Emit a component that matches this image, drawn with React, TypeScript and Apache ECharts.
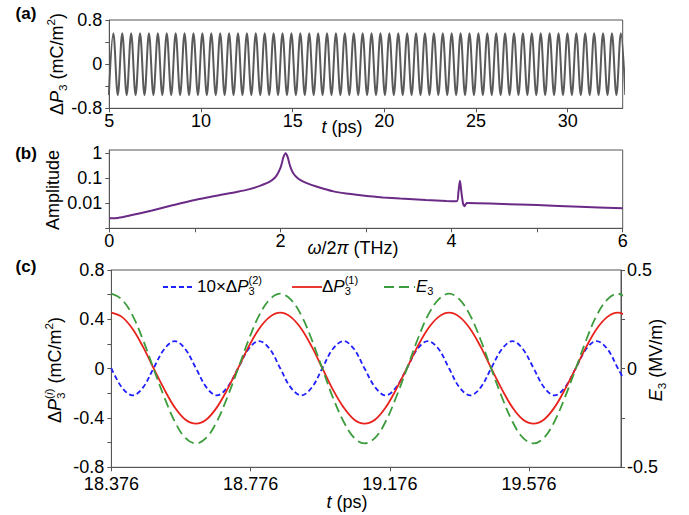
import React, { useEffect, useRef } from "react";
import * as echarts from "echarts";

const FONT = '"Liberation Sans", Arial, sans-serif';

// ---------- Panel (a): ΔP3 vs t, extrema ----------
const aFirstTime = 4.977; // ps, time of first (trough) extremum
const aHalfPeriod = 0.2428; // ps between successive extrema
const aExtrema = [
  -0.56, 0.56, -0.56, 0.56, -0.56, 0.56, -0.56, 0.56, -0.56, 0.56,
  -0.56, 0.56, -0.56, 0.56, -0.56, 0.56, -0.56, 0.56, -0.56, 0.56,
  -0.56, 0.56, -0.56, 0.56, -0.56, 0.56, -0.56, 0.56, -0.56, 0.56,
  -0.56, 0.56, -0.56, 0.56, -0.56, 0.56, -0.56, 0.56, -0.56, 0.56,
  -0.56, 0.56, -0.56, 0.56, -0.56, 0.56, -0.56, 0.56, -0.56, 0.56,
  -0.56, 0.56, -0.56, 0.56, -0.56, 0.56, -0.56, 0.56, -0.56, 0.56,
  -0.56, 0.56, -0.56, 0.56, -0.56, 0.56, -0.56, 0.56, -0.56, 0.56,
  -0.56, 0.56, -0.56, 0.56, -0.56, 0.56, -0.56, 0.56, -0.56, 0.56,
  -0.56, 0.56, -0.56, 0.56, -0.56, 0.56, -0.56, 0.56, -0.56, 0.56,
  -0.56, 0.56, -0.56, 0.56, -0.56, 0.56, -0.56, 0.56, -0.56, 0.56,
  -0.56, 0.56, -0.56, 0.56, -0.56, 0.56, -0.56, 0.56, -0.56, 0.56,
  -0.56, 0.56, -0.56, 0.56, -0.56, 0.56, -0.56,
];

// ---------- Panel (b): spectrum amplitude ----------
const bFreq = [
  0, 0.1, 0.25, 0.5, 0.75, 1.0, 1.25, 1.5, 1.64, 1.76, 1.88, 1.94, 1.975, 2.0,
  2.015, 2.035, 2.061, 2.085, 2.105, 2.125, 2.15, 2.19, 2.23, 2.3, 2.42, 2.62,
  2.8, 3.01, 3.2, 3.4, 3.7, 3.94, 4.06, 4.08, 4.098, 4.115, 4.135, 4.15, 4.165,
  4.18, 4.3, 4.6, 5.0, 5.5, 6.0,
];
const bAmp = [
  0.0025, 0.0026, 0.0033, 0.0052, 0.0085, 0.0135, 0.02, 0.029, 0.037, 0.05,
  0.075, 0.11, 0.17, 0.26, 0.38, 0.7, 1.0, 0.7, 0.38, 0.24, 0.16, 0.11, 0.086,
  0.066, 0.047, 0.03, 0.024, 0.0195, 0.0172, 0.0155, 0.0136, 0.0124, 0.0122,
  0.028, 0.08, 0.028, 0.0095, 0.0076, 0.0092, 0.0102, 0.0101, 0.0094, 0.0085,
  0.0073, 0.0063,
];

// ---------- Panel (c): zoomed time traces ----------
const cTickStart = 18.376;
const cTickStep = 0.4;
const cTMax = 19.84;
const cTime = [
  18.376, 18.406, 18.437, 18.467, 18.497, 18.528, 18.558, 18.588, 18.619, 18.649,
  18.679, 18.709, 18.74, 18.77, 18.8, 18.831, 18.861, 18.891, 18.922, 18.952,
  18.982, 19.012, 19.043, 19.073, 19.103, 19.134, 19.164, 19.194, 19.225, 19.255,
  19.285, 19.316, 19.346, 19.376, 19.407, 19.437, 19.467, 19.498, 19.528, 19.558,
  19.589, 19.619, 19.649, 19.679, 19.71, 19.74, 19.77, 19.801, 19.831, 19.861,
];
// 10 x ΔP3(2) (mC/m²), left axis
const cBlue = [
  0.003, -0.152, -0.217, -0.152, 0.003, 0.159, 0.224, 0.159,
  0.003, -0.152, -0.217, -0.152, 0.003, 0.159, 0.224, 0.159,
  0.003, -0.152, -0.217, -0.152, 0.003, 0.159, 0.224, 0.159,
  0.003, -0.152, -0.217, -0.152, 0.003, 0.159, 0.224, 0.159,
  0.003, -0.152, -0.217, -0.152, 0.003, 0.159, 0.224, 0.159,
  0.003, -0.152, -0.217, -0.152, 0.003, 0.159, 0.224, 0.159,
  0.003, -0.152,
];
// ΔP3(1) (mC/m²), left axis
const cRed = [
  0.454, 0.42, 0.322, 0.176, 0.004, -0.168, -0.314, -0.412,
  -0.446, -0.412, -0.314, -0.168, 0.004, 0.176, 0.322, 0.42,
  0.454, 0.42, 0.322, 0.176, 0.004, -0.168, -0.314, -0.412,
  -0.446, -0.412, -0.314, -0.168, 0.004, 0.176, 0.322, 0.42,
  0.454, 0.42, 0.322, 0.176, 0.004, -0.168, -0.314, -0.412,
  -0.446, -0.412, -0.314, -0.168, 0.004, 0.176, 0.322, 0.42,
  0.454, 0.42,
];
// E3 (MV/m), right axis
const cGreen = [
  0.38, 0.351, 0.269, 0.145, 0, -0.145, -0.268, -0.35,
  -0.379, -0.35, -0.268, -0.145, 0, 0.145, 0.269, 0.351,
  0.38, 0.351, 0.269, 0.145, 0, -0.145, -0.268, -0.35,
  -0.379, -0.35, -0.268, -0.145, 0, 0.145, 0.269, 0.351,
  0.38, 0.351, 0.269, 0.145, 0, -0.145, -0.268, -0.35,
  -0.379, -0.35, -0.268, -0.145, 0, 0.145, 0.269, 0.351,
  0.38, 0.351,
];

type Piece = {
  t: string;
  it?: boolean;
  b?: boolean;
  s?: number;
  dy?: number;
  stack?: boolean;
  join?: boolean;
};

let measureCtx: CanvasRenderingContext2D | null = null;
function textWidth(t: string, size: number, it?: boolean, b?: boolean) {
  if (!measureCtx) measureCtx = document.createElement("canvas").getContext("2d");
  measureCtx!.font = `${it ? "italic " : ""}${b ? "bold " : ""}${size}px ${FONT}`;
  return measureCtx!.measureText(t).width;
}

function mtext(
  pieces: Piece[],
  fs: number,
  x: number,
  y: number,
  opt: { rot?: number; align?: "left" | "center"; color?: string } = {}
) {
  let maxEnd = 0;
  let prevEnd = 0;
  let lastStart = 0;
  const kids: any[] = [];
  for (const p of pieces) {
    const size = fs * (p.s ?? 1);
    const w = textWidth(p.t, size, p.it, p.b);
    const px = p.stack ? lastStart : p.join ? prevEnd : maxEnd;
    kids.push({
      type: "text",
      x: px,
      y: (p.dy ?? 0) * fs,
      style: {
        text: p.t,
        fontSize: size,
        fontStyle: p.it ? "italic" : "normal",
        fontWeight: p.b ? "bold" : "normal",
        fontFamily: FONT,
        fill: opt.color ?? "#000",
        align: "left",
        verticalAlign: "middle",
      },
    });
    prevEnd = px + w;
    maxEnd = Math.max(maxEnd, prevEnd);
    if (!p.stack && !p.join) lastStart = px;
  }
  const off = opt.align === "left" ? 0 : -maxEnd / 2;
  kids.forEach((k) => (k.x += off));
  return { type: "group", x, y, rotation: opt.rot ?? 0, silent: true, children: kids };
}

const SUB = 0.3;
const SUP = -0.38;
const SS = 0.65;

export default function App() {
  const ref = useRef<HTMLDivElement>(null);

  useEffect(() => {
    const chart = echarts.init(ref.current!, null, { renderer: "svg" });

    const aData = aExtrema.map((v, i) => [aFirstTime + i * aHalfPeriod, v]);
    const bData = bFreq.map((f, i) => [f, bAmp[i]]);
    const cOff = (t: number) => t - cTickStart;
    const blueData = cTime.map((t, i) => [cOff(t), cBlue[i]]);
    const redData = cTime.map((t, i) => [cOff(t), cRed[i]]);
    const greenData = cTime.map((t, i) => [cOff(t), cGreen[i]]);

    const axisCol = "#555";
    const lbl = (extra: any = {}) => ({
      color: "#000",
      fontSize: 18,
      fontFamily: FONT,
      ...extra,
    });
    const baseAxis = {
      axisLine: { show: true, onZero: false, lineStyle: { color: axisCol, width: 1 } },
      axisTick: { show: true, length: 4, lineStyle: { color: axisCol } },
      splitLine: { show: false },
    };
    const grid = (left: number, top: number, right: number, bottom: number) => ({
      left,
      top,
      width: right - left,
      height: bottom - top,
      show: true,
      borderColor: axisCol,
      borderWidth: 1,
      backgroundColor: "transparent",
    });

    const option: any = {
      animation: false,
      backgroundColor: "#fff",
      grid: [
        grid(109.3, 20, 622.7, 108.3),
        grid(109.3, 150, 622.7, 228.3),
        grid(111.4, 270, 621, 467.3),
      ],
      xAxis: [
        {
          ...baseAxis,
          type: "value",
          gridIndex: 0,
          min: 5,
          max: 33,
          interval: 5,
          axisLabel: lbl({ margin: 4, showMaxLabel: false }),
        },
        {
          ...baseAxis,
          type: "value",
          gridIndex: 1,
          min: 0,
          max: 6,
          interval: 2,
          minorTick: { show: true, splitNumber: 2, length: 4, lineStyle: { color: axisCol } },
          axisLabel: lbl({ margin: 4 }),
        },
        {
          ...baseAxis,
          type: "value",
          gridIndex: 2,
          min: 0,
          max: cTMax - cTickStart,
          interval: cTickStep,
          axisLabel: lbl({
            margin: 8,
            showMaxLabel: false,
            formatter: (v: number) => (v + cTickStart).toFixed(3),
          }),
        },
      ],
      yAxis: [
        {
          ...baseAxis,
          type: "value",
          gridIndex: 0,
          min: -0.8,
          max: 0.8,
          interval: 0.8,
          minorTick: { show: true, splitNumber: 2, length: 4, lineStyle: { color: axisCol } },
          axisLabel: lbl({ margin: 7 }),
        },
        {
          ...baseAxis,
          type: "log",
          logBase: 10,
          gridIndex: 1,
          min: 0.001,
          max: 1.36,
          axisLabel: lbl({
            margin: 7,
            showMaxLabel: false,
            formatter: (v: number) => (v < 0.005 || v > 1.2 ? "" : String(Number(v.toPrecision(2)))),
          }),
        },
        {
          ...baseAxis,
          type: "value",
          gridIndex: 2,
          min: -0.8,
          max: 0.8,
          interval: 0.4,
          minorTick: { show: true, splitNumber: 2, length: 4, lineStyle: { color: axisCol } },
          axisLabel: lbl({ margin: 7 }),
        },
        {
          ...baseAxis,
          type: "value",
          gridIndex: 2,
          position: "right",
          min: -0.5,
          max: 0.5,
          interval: 0.5,
          minorTick: { show: true, splitNumber: 2, length: 4, lineStyle: { color: axisCol } },
          axisLabel: lbl({ margin: 6 }),
        },
      ],
      series: [
        {
          type: "line",
          xAxisIndex: 0,
          yAxisIndex: 0,
          data: aData,
          showSymbol: false,
          smooth: 0.36,
          lineStyle: { color: "#5a5a5a", width: 2 },
        },
        {
          type: "line",
          xAxisIndex: 1,
          yAxisIndex: 1,
          data: bData,
          showSymbol: false,
          smooth: 0.3,
          lineStyle: { color: "#6a2a86", width: 2 },
        },
        {
          type: "line",
          xAxisIndex: 2,
          yAxisIndex: 2,
          data: blueData,
          showSymbol: false,
          smooth: 0.36,
          lineStyle: { color: "#1f1fff", width: 1.8, type: [5, 3] },
        },
        {
          type: "line",
          xAxisIndex: 2,
          yAxisIndex: 2,
          data: redData,
          showSymbol: false,
          smooth: 0.36,
          lineStyle: { color: "#e8231c", width: 1.8 },
        },
        {
          type: "line",
          xAxisIndex: 2,
          yAxisIndex: 3,
          data: greenData,
          showSymbol: false,
          smooth: 0.36,
          lineStyle: { color: "#3c9c3c", width: 1.8, type: [10, 5] },
        },
      ],
      graphic: {
        elements: [
          mtext([{ t: "(a)", b: true }], 17, 26, 13),
          mtext([{ t: "(b)", b: true }], 17, 26, 153),
          mtext([{ t: "(c)", b: true }], 17, 26, 266),
          mtext(
            [
              { t: "Δ" },
              { t: "P", it: true },
              { t: "3", s: SS, dy: SUB },
              { t: " (mC/m" },
              { t: "2", s: SS, dy: SUP },
              { t: ")" },
            ],
            18,
            57,
            64,
            { rot: Math.PI / 2 }
          ),
          mtext([{ t: "t", it: true }, { t: " (ps)" }], 18, 342, 127),
          mtext([{ t: "Amplitude" }], 18, 53, 190, { rot: Math.PI / 2 }),
          mtext(
            [{ t: "ω", it: true }, { t: "/2" }, { t: "π", it: true }, { t: " (THz)" }],
            18,
            353,
            248
          ),
          mtext(
            [
              { t: "Δ" },
              { t: "P", it: true },
              { t: "3", s: SS, dy: SUB },
              { t: "(", s: SS, dy: SUP, stack: true },
              { t: "i", s: SS, dy: SUP, it: true, join: true },
              { t: ")", s: SS, dy: SUP, join: true },
              { t: " (mC/m" },
              { t: "2", s: SS, dy: SUP },
              { t: ")" },
            ],
            18,
            55,
            370,
            { rot: Math.PI / 2 }
          ),
          mtext(
            [{ t: "E", it: true }, { t: "3", s: SS, dy: SUB }, { t: " (MV/m)" }],
            18,
            656,
            360,
            { rot: Math.PI / 2 }
          ),
          mtext([{ t: "t", it: true }, { t: " (ps)" }], 18, 347, 502),
          // legend
          {
            type: "line",
            silent: true,
            shape: { x1: 163, y1: 287, x2: 195, y2: 287 },
            style: { stroke: "#1f1fff", lineWidth: 1.8, lineDash: [5, 3] },
          },
          mtext(
            [
              { t: "10×Δ" },
              { t: "P", it: true },
              { t: "3", s: SS, dy: SUB },
              { t: "(2)", s: SS, dy: SUP, stack: true },
            ],
            17,
            197,
            286,
            { align: "left" }
          ),
          {
            type: "line",
            silent: true,
            shape: { x1: 292, y1: 287, x2: 322, y2: 287 },
            style: { stroke: "#e8231c", lineWidth: 1.8 },
          },
          mtext(
            [
              { t: "Δ" },
              { t: "P", it: true },
              { t: "3", s: SS, dy: SUB },
              { t: "(1)", s: SS, dy: SUP, stack: true },
            ],
            17,
            322,
            286,
            { align: "left" }
          ),
          {
            type: "line",
            silent: true,
            shape: { x1: 384, y1: 287, x2: 415, y2: 287 },
            style: { stroke: "#3c9c3c", lineWidth: 1.8, lineDash: [10, 5] },
          },
          mtext(
            [{ t: "E", it: true }, { t: "3", s: SS, dy: SUB }],
            17,
            416,
            286,
            { align: "left" }
          ),
        ],
      },
    };

    chart.setOption(option);
    return () => chart.dispose();
  }, []);

  return (
    <div
      ref={ref}
      style={{
        position: "fixed",
        left: 0,
        top: 0,
        width: 689,
        height: 515,
        background: "#fff",
      }}
    />
  );
}
